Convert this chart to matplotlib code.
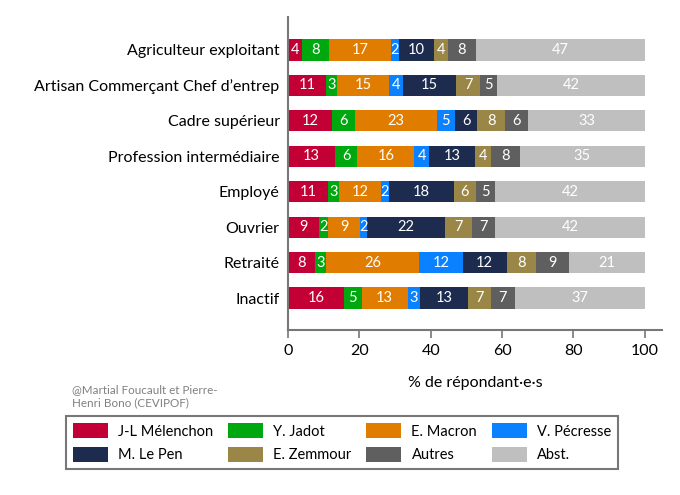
import matplotlib
matplotlib.use("Agg")
import matplotlib.pyplot as plt
import numpy as np
from matplotlib.patches import Patch

plt.rcParams['font.family'] = ['Lato', 'DejaVu Sans']

categories = ["Agriculteur exploitant", "Artisan Commerçant Chef d’entrep",
              "Cadre supérieur", "Profession intermédiaire", "Employé",
              "Ouvrier", "Retraité", "Inactif"]
series_names = ["J-L Mélenchon", "Y. Jadot", "E. Macron", "V. Pécresse",
                "M. Le Pen", "E. Zemmour", "Autres", "Abst."]
melenchon = [3.8, 10.6, 12.4, 13.3, 11.2, 8.7, 7.6, 15.7]
jadot     = [7.7, 3.0, 6.3, 6.1, 3.2, 2.4, 3.1, 4.9]
macron    = [17.3, 14.8, 23.1, 16.0, 11.6, 9.2, 26.1, 13.0]
pecresse  = [2.2, 3.9, 4.9, 4.2, 2.4, 1.8, 12.1, 3.4]
lepen     = [9.9, 14.7, 6.4, 12.9, 18.0, 22.0, 12.4, 13.3]
zemmour   = [3.8, 6.9, 7.8, 4.4, 6.2, 7.4, 8.2, 6.6]
autres    = [7.9, 4.6, 6.4, 8.1, 5.4, 6.6, 9.3, 6.6]
abst      = [47.4, 41.6, 32.7, 35.0, 42.0, 41.9, 21.2, 36.6]
colors = ["#C20036", "#00A80F", "#E07C00", "#0A82FF",
          "#1C2B4E", "#9A8646", "#5F5F5F", "#BFBFBF"]
xticks = [0, 20, 40, 60, 80, 100]

series = [melenchon, jadot, macron, pecresse, lepen, zemmour, autres, abst]

fig = plt.figure(figsize=(6.8, 4.95), dpi=100)
ax = fig.add_axes([288/680, 1-330/495, (662-288)/680, (330-17)/495])

y = np.arange(len(categories))
left = np.zeros(len(categories))
for vals, col, name in zip(series, colors, series_names):
    v = np.array(vals, dtype=float)
    bars = ax.barh(y, v, left=left, height=0.6, color=col, label=name)
    ax.bar_label(bars, labels=[f"{a:.0f}" for a in v], label_type='center',
                 color='white', fontsize=10.5)
    left += v

ax.set_xlim(0, 104.8)
ax.set_ylim(len(categories) - 1 + 0.9, -0.93)
ax.set_yticks(y)
ax.set_yticklabels(categories, fontsize=11.5)
ax.set_xticks(xticks)
ax.set_xticklabels([str(t) for t in xticks], fontsize=11.5)
ax.tick_params(axis='y', length=0, pad=6)
ax.tick_params(axis='x', length=6, width=1.2, color='#777777', pad=4)
for s in ['top', 'right']:
    ax.spines[s].set_visible(False)
for s in ['left', 'bottom']:
    ax.spines[s].set_color('#777777')
    ax.spines[s].set_linewidth(1.5)
ax.set_xlabel("% de répondant·e·s", fontsize=11.5, labelpad=13)

fig.text(72/680, 1-396/495, "@Martial Foucault et Pierre-\nHenri Bono (CEVIPOF)",
         fontsize=8.4, color='#808080', va='center', ha='left', linespacing=1.25)

handles = [Patch(facecolor=c, label=n) for c, n in zip(colors, series_names)]
order = [0, 4, 1, 5, 2, 6, 3, 7]
handles = [handles[i] for i in order]
leg = fig.legend(handles=handles, ncol=4, loc='upper left',
                 bbox_to_anchor=(66/680, 1-416/495), fontsize=10.5,
                 frameon=True, fancybox=False, handlelength=2.4, handleheight=1.2,
                 handletextpad=0.7, columnspacing=1.0, borderpad=0.5,
                 labelspacing=0.55, edgecolor='#555555', borderaxespad=0)
leg.get_frame().set_linewidth(1.5)

fig.savefig("out.png", dpi=100)
